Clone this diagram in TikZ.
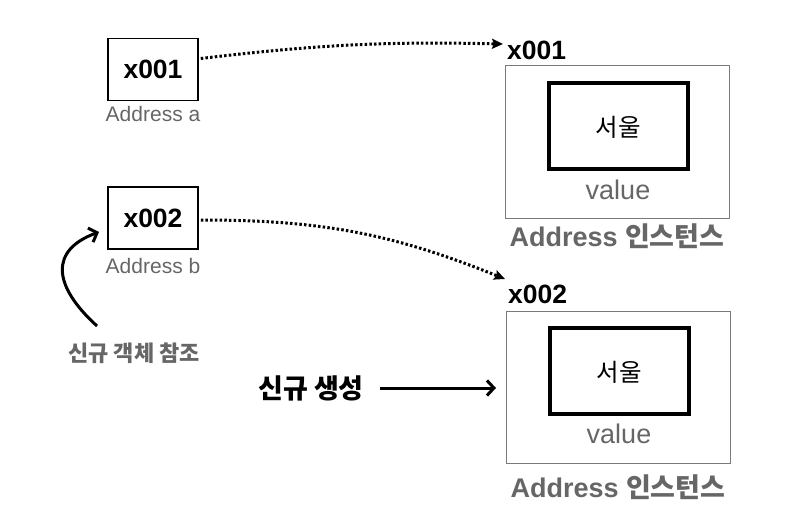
\documentclass[tikz,border=0pt]{standalone}
\usepackage{fontspec}
\setmainfont{Liberation Sans}
\newfontfamily\kr{Noto Sans CJK KR}
\usetikzlibrary{arrows.meta}
\definecolor{txtgray}{HTML}{666666}
\definecolor{boxgray}{HTML}{7A7A7A}
\begin{document}
\begin{tikzpicture}[x=1pt,y=-1pt,
  addrbox/.style={draw=black,line width=1.5pt,minimum width=90pt,minimum height=62pt,inner sep=0pt,
     font=\fontsize{26.5}{30}\selectfont\bfseries},
  sublbl/.style={text=txtgray,inner sep=0pt,font=\fontsize{21}{24}\selectfont},
  outerbox/.style={draw=boxgray,line width=1pt,minimum width=224pt,minimum height=152pt,inner sep=0pt},
  innerbox/.style={draw=black,line width=4pt,minimum width=139pt,minimum height=86pt,inner sep=0pt},
  seoul/.style={inner sep=0pt,font=\kr\fontsize{24.5}{28}\selectfont},
  valuelbl/.style={text=txtgray,inner sep=0pt,font=\fontsize{27}{30}\selectfont},
  instlbl/.style={text=txtgray,inner sep=0pt,font=\fontsize{27}{30}\selectfont\bfseries},
  addrlbl/.style={inner sep=0pt,anchor=west,font=\fontsize{26.5}{30}\selectfont\bfseries},
  dotarrow/.style={line width=3pt,dash pattern=on 2.5pt off 2.2pt,-{Stealth[length=11pt,width=10pt,inset=2pt]}},
  solidarrow/.style={line width=3pt,-{Straight Barb[length=7pt,width=15pt]}},
]
\useasboundingbox (0,0) rectangle (790,516);

% left address boxes
\node[addrbox] (a) at (153,69.5) {x001};
\node[sublbl] (la) at (153,114) {Address a};
\node[addrbox] (b) at (153,218) {x002};
\node[sublbl] (lb) at (153,266) {Address b};

% instance 1
\node[addrlbl] (x1) at (507,50) {x001};
\node[outerbox] (o1) at (617.5,142) {};
\node[innerbox] (i1) at (618.5,126) {};
\node[seoul] (s1) at (618.5,127) {서울};
\node[valuelbl] (v1) at (618,190) {value};
\node[instlbl] (n1) at (617,236) {Address {\kr\bfseries 인스턴스}};

% instance 2
\node[addrlbl] (x2) at (508,294) {x002};
\node[outerbox] (o2) at (618.5,387.5) {};
\node[innerbox] (i2) at (619.5,371) {};
\node[seoul] (s2) at (619.5,372) {서울};
\node[valuelbl] (v2) at (619,434) {value};
\node[instlbl] (n2) at (618,487) {Address {\kr\bfseries 인스턴스}};

% new reference label
\node[inner sep=0pt,text=txtgray,font=\kr\fontsize{22}{26}\selectfont\bfseries] (nr) at (134,353) {신규 객체 참조};
\node[inner sep=0pt,font=\kr\fontsize{27}{30}\selectfont\bfseries] (sc) at (311,388) {신규 생성};

% connectors
\coordinate (t1) at (503,44);
\coordinate (t2) at (505,279);
\draw[dotarrow] ([yshift=11pt,xshift=2pt]a.east) to[bend left=4] (t1);
\draw[dotarrow] ([yshift=-2pt,xshift=2pt]b.east) to[bend left=11] (t2);

\coordinate (cs) at (97,326);
\coordinate (ce) at (99,232);
\draw[solidarrow] (cs) .. controls (52,285) and (50,250) .. (ce);

\draw[solidarrow,shorten <=16pt,shorten >=10pt] (sc.east) -- (sc.east -| o2.west);
\end{tikzpicture}
\end{document}
